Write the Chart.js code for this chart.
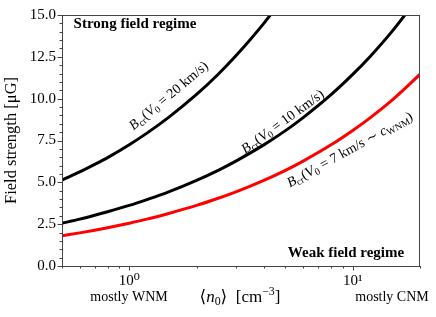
<!DOCTYPE html>
<html>
<head>
<meta charset="utf-8">
<script src="https://cdn.jsdelivr.net/npm/chart.js@4"></script>
<style>
  html, body { margin: 0; padding: 0; background: #fff; }
  #wrap { width: 436px; height: 317px; }
</style>
</head>
<body>
<div id="wrap"><canvas id="chart"></canvas></div>
<script>
// mean density <n0> [cm^-3]
const densities = [0.5, 0.6, 0.7, 0.8, 1.0, 1.2, 1.5, 2, 2.5, 3, 4, 5, 6, 8, 10, 12, 15, 20];
// critical field strength [uG]
const bcr20 = [5.13, 5.62, 6.07, 6.48, 7.25, 7.94, 8.88, 10.25, 11.46, 12.56, 14.5, 16.21];
const bcr10 = [2.56, 2.80, 3.03, 3.24, 3.62, 3.97, 4.43, 5.12, 5.72, 6.27, 7.24, 8.09, 8.87, 10.24, 11.45, 12.54, 14.02, 16.19];
const bcr7 = [1.81, 1.98, 2.14, 2.29, 2.56, 2.80, 3.14, 3.62, 4.05, 4.43, 5.12, 5.72, 6.27, 7.24, 8.10, 8.87, 9.91, 11.45];

const xTicks = [0.5, 0.6, 0.7, 0.8, 0.9, 1, 2, 3, 4, 5, 6, 7, 8, 9, 10, 20];
const xMajor = { 1: '10⁰', 10: '10¹' };

const SERIF = '"Liberation Serif", "DejaVu Serif", serif';
const AXIS = '#444';

const pts = arr => arr.map((v, i) => ({ x: densities[i], y: v }));

function rich(ctx, segs, x, y, angle, size) {
  const font = s => (s.bold ? 'bold ' : '') + (s.it ? 'italic ' : '') + (s.sub || s.sup ? size * 0.7 : size) + 'px ' + SERIF;
  let w = 0;
  segs.forEach(s => { ctx.font = font(s); w += ctx.measureText(s.t).width; });
  ctx.save();
  ctx.translate(x, y);
  ctx.rotate(angle * Math.PI / 180);
  ctx.textBaseline = 'middle';
  ctx.textAlign = 'left';
  ctx.fillStyle = '#000';
  let cx = -w / 2;
  segs.forEach(s => {
    ctx.font = font(s);
    const dy = s.sub ? size * 0.25 : (s.sup ? -size * 0.35 : 0);
    ctx.fillText(s.t, cx, dy);
    cx += ctx.measureText(s.t).width;
  });
  ctx.restore();
}

const decor = {
  id: 'decor',
  afterDraw(chart) {
    const { ctx, chartArea: a, scales: { x, y } } = chart;
    ctx.save();
    ctx.strokeStyle = AXIS;
    ctx.lineWidth = 1;
    ctx.strokeRect(a.left + 0.5, a.top + 0.5, a.right - a.left - 1, a.bottom - a.top);
    ctx.beginPath();
    xTicks.forEach(v => {
      const px = Math.round(x.getPixelForValue(v)) + 0.5;
      const len = xMajor[v] ? 4.5 : 2.5;
      ctx.moveTo(px, a.bottom);
      ctx.lineTo(px, a.bottom + len);
    });
    for (let i = 0; i <= 30; i++) {
      const v = i * 0.5;
      const py = Math.round(y.getPixelForValue(v)) + 0.5;
      const len = i % 5 === 0 ? 4.5 : 2.5;
      ctx.moveTo(a.left, py);
      ctx.lineTo(a.left - len, py);
    }
    ctx.stroke();
    ctx.restore();

    const lbl = (v, rest) => [{ t: 'B', it: true }, { t: 'cr', sub: true }, { t: '(' }, { t: 'V', it: true }, { t: '0', sub: true }, { t: ' = ' + v + ' km/s' }].concat(rest);
    rich(ctx, [{ t: 'Strong field regime', bold: true }], 135, 24, 0, 15);
    rich(ctx, [{ t: 'Weak field regime', bold: true }], 346, 253, 0, 15);
    rich(ctx, lbl(20, [{ t: ')' }]), 169, 96, -40, 14);
    rich(ctx, lbl(10, [{ t: ')' }]), 283, 122, -36, 14);
    rich(ctx, lbl(7, [{ t: ' ∼ ' }, { t: 'c', it: true }, { t: 'WNM', sub: true }, { t: ')' }]), 350, 150, -29, 14);
    rich(ctx, [{ t: 'mostly WNM' }], 129, 297, 0, 14);
    rich(ctx, [{ t: 'mostly CNM' }], 392, 297, 0, 14);
    rich(ctx, [{ t: '⟨' }, { t: 'n', it: true }, { t: '0', sub: true }, { t: '⟩  [cm' }, { t: '−3', sup: true }, { t: ']' }], 240, 298, 0, 17);
  }
};

new Chart(document.getElementById('chart'), {
  type: 'line',
  data: {
    datasets: [
      { data: pts(bcr20), borderColor: '#000', borderWidth: 3, pointRadius: 0, cubicInterpolationMode: 'monotone', clip: 0 },
      { data: pts(bcr10), borderColor: '#000', borderWidth: 3, pointRadius: 0, cubicInterpolationMode: 'monotone', clip: 0 },
      { data: pts(bcr7), borderColor: '#ff0000', borderWidth: 3, pointRadius: 0, cubicInterpolationMode: 'monotone', clip: 0 },
    ]
  },
  options: {
    responsive: true,
    maintainAspectRatio: false,
    animation: false,
    layout: { padding: { top: 12, right: 16, left: 0, bottom: 0 } },
    plugins: { legend: { display: false }, tooltip: { enabled: false } },
    scales: {
      x: {
        type: 'logarithmic',
        min: 0.5,
        max: 20,
        grid: { display: false, drawTicks: false },
        border: { display: false },
        afterBuildTicks: s => { s.ticks = xTicks.map(v => ({ value: v })); },
        afterFit: s => { s.height = 51; },
        ticks: {
          autoSkip: false,
          maxRotation: 0,
          padding: 6,
          color: '#000',
          font: { family: SERIF, size: 15 },
          callback: v => xMajor[v] || ''
        }
      },
      y: {
        min: 0,
        max: 15,
        grid: { display: false, drawTicks: false },
        border: { display: false },
        afterFit: s => { s.width = 62; },
        ticks: {
          stepSize: 2.5,
          padding: 6,
          color: '#000',
          font: { family: SERIF, size: 15 },
          callback: v => v.toFixed(1)
        },
        title: {
          display: true,
          text: 'Field strength [μG]',
          color: '#000',
          font: { family: SERIF, size: 16.5 },
          padding: { top: 2, bottom: 0 }
        }
      }
    }
  },
  plugins: [decor]
});
</script>
</body>
</html>
